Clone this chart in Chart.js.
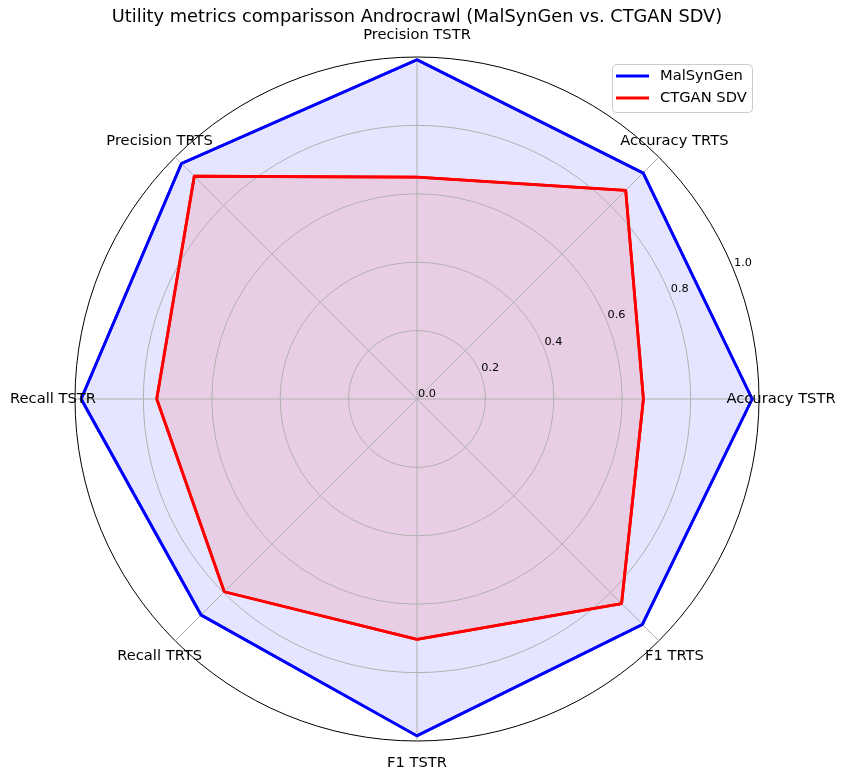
<!DOCTYPE html>
<html><head><meta charset="utf-8">
<script src="https://cdn.jsdelivr.net/npm/chart.js@4"></script>
<style>html,body{margin:0;padding:0;background:#fff}canvas{display:block}</style>
</head><body>
<canvas id="c" width="847" height="781"></canvas>
<script>
// Data (matplotlib order: counter-clockwise starting at the right)
const categories = ['Accuracy TSTR','Accuracy TRTS','Precision TSTR','Precision TRTS','Recall TSTR','Recall TRTS','F1 TSTR','F1 TRTS'];
const malsyngen = [0.980, 0.935, 0.992, 0.974, 0.982, 0.893, 0.985, 0.932];
const ctganSdv  = [0.662, 0.863, 0.649, 0.921, 0.761, 0.797, 0.703, 0.846];
const tickValues = [0.0, 0.2, 0.4, 0.6, 0.8, 1.0];
const tickLabels = ['0.0','0.2','0.4','0.6','0.8','1.0'];
const seriesNames = ['MalSynGen','CTGAN SDV'];
const seriesColors = ['#0000ff','#ff0000'];
const titleText = 'Utility metrics comparisson Androcrawl (MalSynGen vs. CTGAN SDV)';

// Chart.js walks clockwise, so reorder to keep the same visual placement
const order = [0,7,6,5,4,3,2,1];
const pick = a => order.map(i => a[i]);

const FONT = '"DejaVu Sans", "Liberation Sans", sans-serif';

const overlay = {
  id: 'overlay',
  afterDraw(chart) {
    const ctx = chart.ctx, s = chart.scales.r;
    // redraw the series outlines above the grid (fill < grid < lines, like matplotlib)
    [1, 0].forEach(i => {
      const meta = chart.getDatasetMeta(i);
      if (meta && meta.dataset) meta.dataset.draw(ctx, chart.chartArea);
    });
    ctx.save();
    ctx.fillStyle = '#000';
    // angular labels
    ctx.font = '14.7px ' + FONT;
    ctx.textAlign = 'center';
    ctx.textBaseline = 'middle';
    chart.data.labels.forEach((l, i) => {
      const p = s.getPointPosition(i, s.drawingArea + 22);
      ctx.fillText(l, p.x, p.y);
    });
    // radial tick labels at 22.5 degrees
    ctx.font = '11.3px ' + FONT;
    ctx.textAlign = 'left';
    ctx.textBaseline = 'alphabetic';
    const a = 22.5 * Math.PI / 180;
    tickValues.forEach((v, i) => {
      const r = s.getDistanceFromCenterForValue(v);
      ctx.fillText(tickLabels[i], s.xCenter + r * Math.cos(a) + 1, s.yCenter - r * Math.sin(a) - 2);
    });
    // title
    ctx.font = '17.8px ' + FONT;
    ctx.textAlign = 'center';
    ctx.textBaseline = 'middle';
    ctx.fillText(titleText, s.xCenter, 17);
    // legend
    ctx.beginPath();
    ctx.roundRect(612.5, 64.5, 140, 48, 4);
    ctx.fillStyle = 'rgba(255,255,255,0.8)';
    ctx.fill();
    ctx.strokeStyle = '#cccccc';
    ctx.lineWidth = 1;
    ctx.stroke();
    ctx.font = '14.7px ' + FONT;
    ctx.textAlign = 'left';
    chart.data.datasets.forEach((d, i) => {
      const y = 76 + i * 22;
      ctx.beginPath();
      ctx.moveTo(616, y); ctx.lineTo(649, y);
      ctx.strokeStyle = d.borderColor;
      ctx.lineWidth = 2.8;
      ctx.stroke();
      ctx.fillStyle = '#000';
      ctx.fillText(d.label, 660, y);
    });
    ctx.restore();
  }
};

new Chart(document.getElementById('c'), {
  type: 'radar',
  data: {
    labels: pick(categories),
    datasets: [
      { label: seriesNames[0], data: pick(malsyngen), borderColor: seriesColors[0], backgroundColor: 'rgba(0,0,255,0.1)', fill: true, order: 2 },
      { label: seriesNames[1], data: pick(ctganSdv), borderColor: seriesColors[1], backgroundColor: 'rgba(255,0,0,0.1)', fill: true, order: 1 }
    ]
  },
  options: {
    responsive: false,
    animation: false,
    layout: { padding: { left: 75, top: 57, right: 88, bottom: 40 } },
    elements: {
      line: { borderWidth: 2.8, tension: 0, borderJoinStyle: 'round' },
      point: { radius: 0, hoverRadius: 0 }
    },
    plugins: { legend: { display: false }, title: { display: false }, tooltip: { enabled: false } },
    scales: {
      r: {
        min: 0, max: 1,
        startAngle: 90,
        ticks: { display: false, stepSize: 0.2 },
        pointLabels: { display: false },
        grid: {
          z: 1,
          circular: true,
          color: c => (c.tick && c.tick.value >= 0.999) ? '#000000' : '#b0b0b0',
          lineWidth: 1
        },
        angleLines: { color: '#b0b0b0', lineWidth: 1 }
      }
    }
  },
  plugins: [overlay]
});
</script>
</body></html>
